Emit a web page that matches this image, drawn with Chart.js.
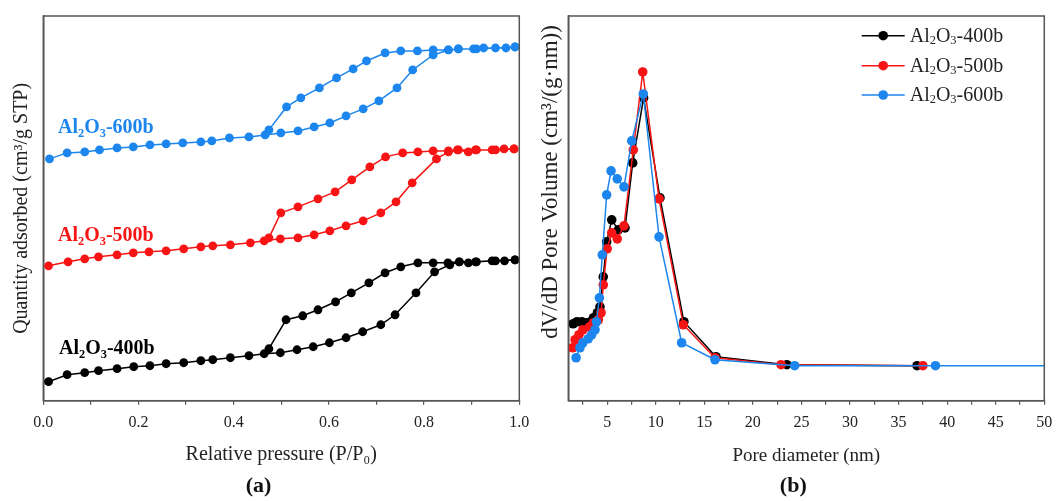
<!DOCTYPE html>
<html>
<head>
<meta charset="utf-8">
<script src="https://cdn.jsdelivr.net/npm/chart.js@4/dist/chart.umd.min.js"></script>
<style>
  html, body { margin: 0; padding: 0; background: #fff; }
  #wrap { position: relative; width: 1056px; height: 501px; }
  .panel { position: absolute; top: 0; height: 501px; }
</style>
</head>
<body>
<div id="wrap">
  <div class="panel" style="left:0;width:545px"><canvas id="chartA"></canvas></div>
  <div class="panel" style="left:528px;width:528px"><canvas id="chartB"></canvas></div>
</div>
<script>
// (a) N2 isotherms: adsorption branch then desorption branch
const ads400P = [0.011,0.050,0.087,0.116,0.155,0.190,0.224,0.258,0.295,0.331,0.356,0.393,0.432,0.464,0.498,0.533,0.567,0.601,0.636,0.671,0.709,0.739,0.783,0.822,0.854,0.874,0.893,0.908,0.943,0.969,0.991];
const ads400Q = [19,26,28,30,32,34,35,37,38,40,41,43,45,47,48,51,54,58,63,69,76,86,108,129,136,139,138,139,140,140,141];
const des400P = [0.991,0.950,0.910,0.874,0.850,0.819,0.787,0.751,0.718,0.684,0.647,0.614,0.577,0.545,0.510,0.474];
const des400Q = [141,140,139,139,138,138,138,134,128,118,108,99,91,85,81,52];

const ads500P = [0.011,0.052,0.087,0.116,0.155,0.189,0.222,0.258,0.295,0.331,0.356,0.393,0.435,0.464,0.498,0.535,0.569,0.602,0.636,0.672,0.709,0.741,0.775,0.826,0.851,0.872,0.893,0.908,0.943,0.968,0.989];
const ads500Q = [135,139,142,144,146,148,149,150,152,154,155,156,158,160,162,163,166,170,175,180,188,199,218,242,249,251,249,251,251,252,252];
const des500P = [0.989,0.950,0.910,0.870,0.851,0.819,0.787,0.755,0.719,0.686,0.648,0.613,0.577,0.535,0.499,0.474];
const des500Q = [252,251,251,251,250,250,249,248,244,234,221,209,202,194,188,163];

const ads600P = [0.013,0.050,0.087,0.118,0.155,0.189,0.224,0.258,0.293,0.331,0.354,0.391,0.432,0.466,0.499,0.535,0.569,0.602,0.636,0.672,0.705,0.743,0.776,0.819,0.851,0.872,0.904,0.925,0.972,0.991];
const ads600Q = [242,248,249,251,253,254,256,257,258,259,260,263,264,266,268,270,274,278,285,292,300,313,331,346,351,352,352,353,353,354];
const des600P = [0.991,0.950,0.910,0.872,0.851,0.819,0.786,0.751,0.718,0.679,0.651,0.616,0.580,0.541,0.511,0.474];
const des600Q = [354,353,352,352,351,351,350,350,348,340,332,323,313,303,294,271];

// (b) pore size distribution
const d400 = [1.5,1.9,2.4,2.9,3.3,3.6,4.0,4.26,4.6,4.95,5.47,6.15,6.84,7.63,8.75,10.44,12.9,16.2,23.5,36.9];
const v400 = [77,79,79,78,79,83,88,94,124,159,181,171,173,238,303,203,79,44,36,35];
const d500 = [1.45,1.7,2.1,2.5,3.2,3.6,4.1,4.37,4.6,5.0,5.47,6.04,6.73,7.69,8.66,10.34,12.84,16.1,22.9,37.5];
const v500 = [53,61,66,71,74,78,81,88,116,152,168,162,175,251,329,202,76,43,36,35];
const d600 = [1.8,2.2,2.5,3.05,3.4,3.75,3.9,4.2,4.5,4.95,5.4,6.04,6.73,7.53,8.72,10.34,12.67,16.1,24.3,38.8,60];
const v600 = [43,53,58,62,66,71,79,103,146,206,230,222,214,260,307,164,58,41,35,35,35];

const poreTicks = [2.5,5,7.5,10,12.5,15,17.5,20,22.5,25,27.5,30,32.5,35,37.5,40,42.5,45,47.5,50];
const sampleNames = ['-400b', '-500b', '-600b'];

const BLACK = '#000000';
const RED = '#f71414';
const BLUE = '#1c86ee';
const AXIS = '#555555';
const SERIF = "'Liberation Serif', 'Times New Roman', serif";

Chart.defaults.font.family = SERIF;
Chart.defaults.color = '#222';

const pts = (xs, ys) => xs.map((x, i) => ({ x, y: ys[i] }));

// Al2O3 with subscripts
function formulaParts(suffix) {
  return [['Al', 0], ['2', 1], ['O', 0], ['3', 1], [suffix, 0]];
}

function drawRich(ctx, parts, x, y, size, weight, color) {
  ctx.fillStyle = color;
  ctx.textAlign = 'left';
  let cx = x;
  parts.forEach(([t, sub]) => {
    const s = sub ? size * 0.62 : size;
    ctx.font = `${weight} ${s}px ${SERIF}`;
    ctx.fillText(t, cx, sub ? y + size * 0.2 : y);
    cx += ctx.measureText(t).width;
  });
}

const frame = {
  id: 'frame',
  afterDraw(chart, args, opts) {
    const { ctx, chartArea: a } = chart;
    ctx.save();
    ctx.strokeStyle = AXIS;
    ctx.lineWidth = 1.5;
    ctx.strokeRect(a.left, a.top, a.right - a.left, a.bottom - a.top);

    ctx.textBaseline = 'alphabetic';
    (opts.labels || []).forEach(l => {
      drawRich(ctx, formulaParts(l.text), l.x, l.y, 20, 'bold', l.color);
    });

    (opts.legend || []).forEach(l => {
      ctx.strokeStyle = l.color;
      ctx.lineWidth = 1.6;
      ctx.beginPath();
      ctx.moveTo(l.x, l.y);
      ctx.lineTo(l.x + 43, l.y);
      ctx.stroke();
      ctx.fillStyle = l.color;
      ctx.beginPath();
      ctx.arc(l.x + 21.5, l.y, 4.8, 0, Math.PI * 2);
      ctx.fill();
      ctx.textBaseline = 'middle';
      drawRich(ctx, formulaParts(l.text), l.x + 48, l.y + 1, 20, 'normal', '#222');
    });

    if (opts.yTitle) {
      const t = opts.yTitle;
      ctx.save();
      ctx.translate(t.x, t.y);
      ctx.rotate(-Math.PI / 2);
      ctx.textAlign = 'center';
      ctx.textBaseline = 'middle';
      ctx.fillStyle = '#222';
      ctx.font = `${t.size}px ${SERIF}`;
      ctx.fillText(t.text, 0, 0);
      ctx.restore();
    }

    if (opts.caption) {
      ctx.textBaseline = 'middle';
      ctx.textAlign = 'center';
      ctx.fillStyle = '#111';
      ctx.font = `bold 22px ${SERIF}`;
      ctx.fillText(opts.caption.text, opts.caption.x, opts.caption.y);
    }
    ctx.restore();
  }
};

function lineSet(label, data, color, r, order) {
  return {
    label, data, order,
    showLine: true,
    borderColor: color,
    backgroundColor: color,
    borderWidth: 1.5,
    pointRadius: r,
    pointHoverRadius: r,
    pointBackgroundColor: color,
    pointBorderColor: color,
    pointBorderWidth: 0,
    tension: 0,
  };
}

const xGrid = { display: true, drawOnChartArea: false, drawTicks: true, tickLength: 4, color: AXIS, lineWidth: 1.2 };
// keep the edge tick labels from shrinking the plot area
const noEdgePad = s => { s.height = 75.5; s.paddingLeft = 0; s.paddingRight = 0; };

new Chart(document.getElementById('chartA'), {
  type: 'scatter',
  data: {
    datasets: [
      lineSet('Al2O3-400b', pts(ads400P.concat(des400P), ads400Q.concat(des400Q)), BLACK, 4.4, 3),
      lineSet('Al2O3-500b', pts(ads500P.concat(des500P), ads500Q.concat(des500Q)), RED, 4.4, 2),
      lineSet('Al2O3-600b', pts(ads600P.concat(des600P), ads600Q.concat(des600Q)), BLUE, 4.4, 1),
    ],
  },
  options: {
    responsive: true,
    maintainAspectRatio: false,
    animation: false,
    layout: { padding: { top: 16, right: 25.7, left: 0, bottom: 24.8 } },
    plugins: {
      legend: { display: false },
      tooltip: { enabled: false },
      frame: {
        labels: [
          { text: sampleNames[2], x: 58, y: 133, color: BLUE },
          { text: sampleNames[1], x: 58, y: 241, color: RED },
          { text: sampleNames[0], x: 59, y: 354, color: '#000' },
        ],
        caption: { text: '(a)', x: 258.5, y: 486 },
      },
    },
    scales: {
      x: {
        type: 'linear', min: 0, max: 1,
        grid: xGrid,
        border: { display: true, color: AXIS, width: 1.5 },
        ticks: {
          stepSize: 0.1, autoSkip: false, maxRotation: 0, padding: 8,
          color: '#222', font: { size: 16 },
          callback: v => (Math.round(v * 10) % 2 === 0 ? v.toFixed(1) : ''),
        },
        title: { display: true, text: 'Relative pressure (P/P₀)', font: { size: 20 }, color: '#222', padding: { top: 0, bottom: 9 } },
        afterFit: noEdgePad,
      },
      y: {
        type: 'linear', min: 0, max: 385,
        grid: { display: false },
        border: { display: true, color: AXIS, width: 1.5 },
        ticks: { display: false },
        title: { display: true, text: 'Quantity adsorbed (cm³/g STP)', font: { size: 20 }, color: '#222', padding: { top: 9.5, bottom: 0 } },
        afterFit: s => { s.width = 43.3; },
      },
    },
  },
  plugins: [frame],
});

new Chart(document.getElementById('chartB'), {
  type: 'scatter',
  data: {
    datasets: [
      lineSet('Al2O3-400b', pts(d400, v400), BLACK, 4.8, 3),
      lineSet('Al2O3-500b', pts(d500, v500), RED, 4.8, 2),
      lineSet('Al2O3-600b', pts(d600, v600), BLUE, 4.8, 1),
    ],
  },
  options: {
    responsive: true,
    maintainAspectRatio: false,
    animation: false,
    layout: { padding: { top: 16, right: 11.7, left: 0, bottom: 24.8 } },
    plugins: {
      legend: { display: false },
      tooltip: { enabled: false },
      frame: {
        legend: [
          { text: sampleNames[0], x: 333.7, y: 35.7, color: BLACK },
          { text: sampleNames[1], x: 333.7, y: 65.7, color: RED },
          { text: sampleNames[2], x: 333.7, y: 95, color: BLUE },
        ],
        yTitle: { text: 'dV/dD Pore Volume (cm³/(g·nm))', x: 22.5, y: 182, size: 23 },
        caption: { text: '(b)', x: 265.3, y: 486 },
      },
    },
    scales: {
      x: {
        type: 'linear', min: 1, max: 50,
        grid: xGrid,
        border: { display: true, color: AXIS, width: 1.5 },
        afterBuildTicks: s => { s.ticks = poreTicks.map(v => ({ value: v })); },
        ticks: {
          autoSkip: false, maxRotation: 0, padding: 8,
          color: '#222', font: { size: 16 },
          callback: v => (v % 5 === 0 ? String(v) : ''),
        },
        title: { display: true, text: 'Pore diameter (nm)', font: { size: 19 }, color: '#222', padding: { top: 0, bottom: 9 } },
        afterFit: noEdgePad,
      },
      y: {
        type: 'linear', min: 0, max: 385,
        grid: { display: false },
        border: { display: true, color: AXIS, width: 1.5 },
        ticks: { display: false },
        title: { display: false },
        afterFit: s => { s.width = 40.3; },
      },
    },
  },
  plugins: [frame],
});
</script>
</body>
</html>
